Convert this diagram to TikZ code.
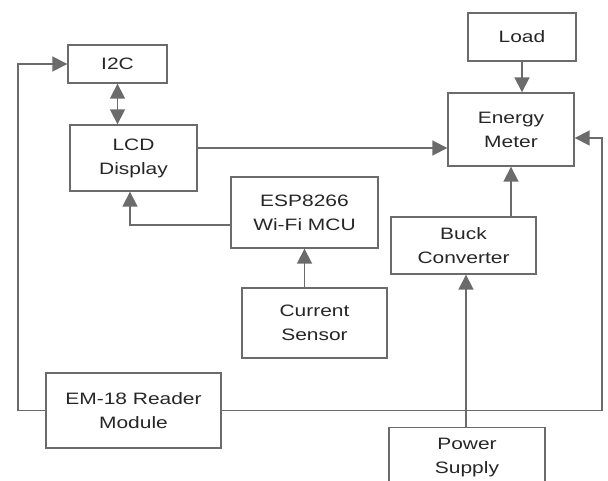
\documentclass[tikz,border=0pt]{standalone}
\usepackage{fontspec}
\setmainfont{Liberation Sans}[FakeStretch=1.27]
\usetikzlibrary{arrows.meta}
\definecolor{BlockGray}{HTML}{6B6B6B}
\definecolor{LabelGray}{HTML}{262626}

\begin{document}
\begin{tikzpicture}[x=1pt,y=-1pt,>={Triangle[length=15pt,width=15pt]},
  font=\fontsize{16.5}{24}\selectfont,
  block/.style={draw=BlockGray,line width=1.4pt,text=LabelGray,align=center,inner sep=0pt},
  link/.style={->,draw=BlockGray,line width=1.8pt}]
  \path[use as bounding box] (0,0) rectangle (608,481);
  \node[block,minimum width=99pt,minimum height=38pt] (i2c) at (117.5,64) {I2C};
  \node[block,minimum width=127pt,minimum height=66pt] (lcd) at (133.5,158) {LCD\\Display};
  \node[block,minimum width=108pt,minimum height=48pt] (load) at (522,37) {Load};
  \node[block,minimum width=126pt,minimum height=73pt] (meter) at (511,129.5) {Energy\\Meter};
  \node[block,minimum width=147pt,minimum height=71pt] (esp) at (304.5,212.5) {ESP8266\\Wi-Fi MCU};
  \node[block,minimum width=145pt,minimum height=70pt] (sensor) at (314.5,323) {Current\\Sensor};
  \node[block,minimum width=145pt,minimum height=57pt] (buck) at (463.5,245.5) {Buck\\Converter};
  \node[block,minimum width=175pt,minimum height=75pt] (reader) at (133.5,410.5) {EM-18 Reader\\Module};
  \node[block,minimum width=156pt,minimum height=60pt] (supply) at (467,457.5) {Power\\Supply};
  \coordinate (leftbus) at (18,410.5);
  \coordinate (rightbus) at (602,410.5);
  \draw[link,<->] (i2c.south) -- (i2c.south |- lcd.north);
  \draw[link] (load.south) -- (load.south |- meter.north);
  \draw[link] ([yshift=10pt]lcd.east) -- ([yshift=10pt]lcd.east -| meter.west);
  \draw[link] ([yshift=-12.5pt]esp.west) -| ([xshift=-3.5pt]lcd.south);
  \draw[link] (sensor.north -| esp.south) -- (esp.south);
  \draw[link] (buck.north -| meter.south) -- (meter.south);
  \draw[link] (supply.north -| 466,0) -- (buck.south -| 466,0);
  \draw[link] (reader.west) -- (leftbus) |- (i2c.west);
  \draw[link] (reader.east) -- (rightbus) |- ([yshift=-8.5pt]meter.east);
\end{tikzpicture}
\end{document}
